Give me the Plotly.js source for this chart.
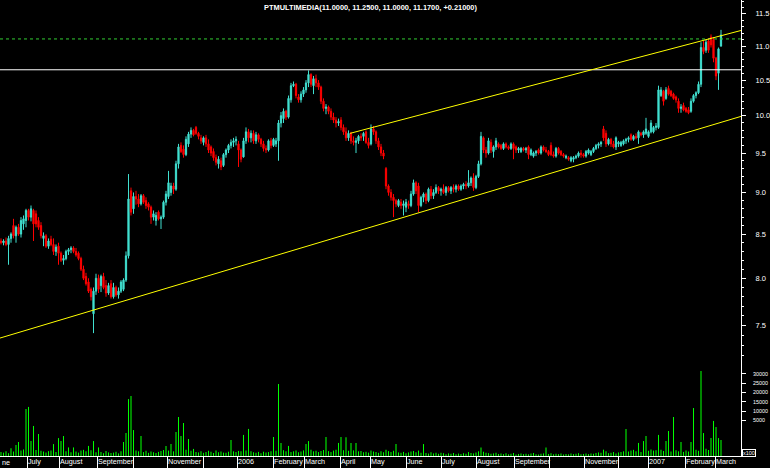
<!DOCTYPE html>
<html>
<head>
<meta charset="utf-8">
<script src="https://cdn.plot.ly/plotly-3.0.1.min.js"></script>
<style>html,body{margin:0;padding:0;background:#000;}#chart{width:770px;height:468px;}</style>
</head>
<body>
<div id="chart"></div>
<script>
// ---- DATA (one candle per ~2.5px column) ----
const opens = [
8.42,8.40,8.42,8.38,8.45,8.60,8.48,8.58,8.50,8.62,
8.66,8.78,8.70,8.78,8.74,8.66,8.60,8.45,8.48,8.36,
8.44,8.38,8.30,8.36,8.28,8.20,8.22,8.30,8.32,8.34,
8.30,8.28,8.22,8.10,8.02,7.96,7.88,7.62,7.86,8.00,
7.92,8.02,7.92,7.84,7.94,7.80,7.90,7.82,7.86,7.88,
7.98,8.25,9.02,8.80,8.95,8.92,8.86,8.96,8.90,8.86,
8.82,8.70,8.66,8.76,8.68,8.70,8.88,8.95,9.00,9.08,
9.04,9.36,9.60,9.55,9.48,9.62,9.75,9.80,9.84,9.76,
9.70,9.64,9.70,9.62,9.58,9.52,9.44,9.36,9.40,9.34,
9.48,9.54,9.60,9.64,9.66,9.62,9.54,9.45,9.66,9.78,
9.70,9.76,9.66,9.74,9.68,9.62,9.56,9.54,9.66,9.60,
9.62,9.66,9.90,9.96,10.06,9.98,10.22,10.42,10.44,10.26,
10.22,10.30,10.36,10.46,10.58,10.42,10.52,10.46,10.40,10.20,
10.10,10.12,10.06,9.98,9.94,9.90,9.94,9.84,9.78,9.70,
9.76,9.66,9.64,9.66,9.72,9.72,9.78,9.64,9.62,9.82,
9.78,9.66,9.58,9.50,9.30,9.08,9.00,8.94,8.90,8.84,
8.88,8.84,8.82,8.86,8.84,8.98,9.12,9.08,8.84,8.94,
8.98,8.90,9.04,8.96,9.00,9.06,9.02,9.04,9.00,9.06,
9.02,9.06,9.04,9.08,9.04,9.08,9.10,9.08,9.12,9.18,
9.06,9.20,9.36,9.70,9.54,9.50,9.64,9.52,9.58,9.62,
9.60,9.56,9.62,9.58,9.56,9.62,9.58,9.54,9.52,9.56,
9.54,9.58,9.48,9.46,9.50,9.54,9.50,9.58,9.54,9.52,
9.60,9.48,9.46,9.56,9.52,9.48,9.44,9.44,9.40,9.42,
9.44,9.46,9.50,9.48,9.46,9.50,9.48,9.52,9.56,9.60,
9.62,9.82,9.76,9.62,9.68,9.62,9.58,9.62,9.60,9.62,
9.66,9.68,9.74,9.68,9.72,9.70,9.76,9.74,9.76,9.72,
9.78,9.78,9.84,9.84,10.28,10.34,10.24,10.38,10.34,10.30,
10.26,10.20,10.10,10.14,10.10,10.08,10.06,10.20,10.28,10.32,
10.44,10.98,10.94,11.08,11.14,11.10,10.82,10.60,11.00];
const highs = [
8.45,8.44,8.46,8.48,8.52,8.68,8.60,8.62,8.70,8.72,
8.80,8.80,8.84,8.80,8.78,8.70,8.64,8.52,8.50,8.45,
8.48,8.45,8.38,8.40,8.30,8.26,8.32,8.34,8.36,8.36,
8.34,8.30,8.24,8.14,8.06,8.00,7.90,7.90,8.05,8.04,
8.04,8.06,7.98,7.95,7.98,7.95,7.92,7.90,7.98,8.00,
8.30,9.23,9.06,9.00,9.02,8.98,8.98,8.98,8.94,8.88,
8.84,8.78,8.76,8.78,8.72,8.90,9.02,9.27,9.12,9.12,
9.40,9.62,9.64,9.60,9.72,9.78,9.84,9.82,9.86,9.78,
9.74,9.72,9.74,9.68,9.60,9.56,9.48,9.46,9.44,9.50,
9.56,9.62,9.68,9.70,9.72,9.66,9.56,9.70,9.84,9.82,
9.80,9.80,9.78,9.76,9.70,9.66,9.60,9.68,9.70,9.70,
9.70,9.94,10.05,10.10,10.08,10.28,10.46,10.48,10.46,10.30,
10.34,10.40,10.50,10.64,10.60,10.56,10.58,10.50,10.42,10.24,
10.16,10.14,10.10,10.04,9.98,9.96,9.98,9.88,9.84,9.80,
9.78,9.72,9.70,9.74,9.76,9.78,9.80,9.70,9.88,9.86,
9.80,9.70,9.62,9.54,9.32,9.10,9.04,8.98,8.92,8.92,
8.92,8.90,8.92,8.90,9.02,9.16,9.14,9.12,8.96,9.00,
9.00,9.06,9.08,9.04,9.10,9.08,9.06,9.10,9.08,9.08,
9.08,9.10,9.10,9.10,9.10,9.12,9.14,9.28,9.20,9.24,
9.22,9.40,9.78,9.72,9.58,9.70,9.68,9.60,9.70,9.64,
9.62,9.64,9.64,9.60,9.64,9.64,9.60,9.58,9.58,9.58,
9.58,9.60,9.56,9.52,9.54,9.56,9.60,9.60,9.58,9.54,
9.64,9.52,9.58,9.58,9.54,9.50,9.48,9.46,9.46,9.46,
9.48,9.52,9.54,9.50,9.54,9.56,9.54,9.58,9.62,9.64,
9.66,9.86,9.80,9.70,9.70,9.66,9.72,9.66,9.66,9.68,
9.70,9.72,9.76,9.74,9.76,9.80,9.78,9.80,9.97,9.80,
9.94,9.86,9.90,10.42,10.40,10.36,10.40,10.42,10.36,10.32,
10.28,10.24,10.16,10.18,10.12,10.12,10.24,10.30,10.34,10.48,
11.06,11.08,11.10,11.12,11.18,11.14,10.84,10.98,11.25];
const lows = [
8.38,8.37,8.36,8.15,8.40,8.45,8.40,8.48,8.46,8.55,
8.58,8.66,8.65,8.42,8.58,8.55,8.45,8.36,8.34,8.33,
8.36,8.26,8.25,8.15,8.18,8.15,8.20,8.26,8.28,8.28,
8.24,8.20,8.08,7.98,7.92,7.84,7.76,7.42,7.82,7.84,
7.85,7.88,7.80,7.82,7.78,7.78,7.80,7.78,7.84,7.86,
7.96,8.22,8.72,8.74,8.85,8.82,8.84,8.86,8.80,8.78,
8.62,8.66,8.60,8.66,8.56,8.68,8.84,8.92,8.96,8.98,
9.02,9.30,9.50,9.44,9.46,9.58,9.70,9.72,9.74,9.68,
9.62,9.60,9.58,9.50,9.46,9.40,9.34,9.30,9.28,9.32,
9.44,9.50,9.56,9.58,9.60,9.32,9.38,9.44,9.62,9.64,
9.64,9.62,9.62,9.64,9.58,9.52,9.50,9.52,9.56,9.58,
9.58,9.40,9.84,9.90,9.94,9.96,10.18,10.40,10.24,10.18,
10.18,10.26,10.32,10.40,10.40,10.30,10.40,10.36,10.16,10.06,
10.02,10.02,9.94,9.90,9.84,9.86,9.80,9.74,9.66,9.66,
9.62,9.60,9.50,9.62,9.66,9.66,9.62,9.56,9.60,9.74,
9.62,9.54,9.46,9.42,9.04,8.96,8.90,8.70,8.82,8.82,
8.80,8.72,8.76,8.80,8.82,8.96,8.98,8.76,8.82,8.88,
8.86,8.88,8.92,8.92,8.98,8.98,8.96,8.98,8.96,9.00,
8.98,9.00,9.00,9.02,9.02,9.04,9.04,9.06,9.08,9.02,
9.04,9.18,9.34,9.50,9.44,9.48,9.50,9.44,9.54,9.56,
9.54,9.54,9.56,9.54,9.54,9.42,9.50,9.50,9.50,9.52,
9.50,9.42,9.46,9.44,9.46,9.48,9.48,9.52,9.50,9.46,
9.46,9.44,9.44,9.48,9.46,9.44,9.42,9.40,9.38,9.38,
9.42,9.44,9.44,9.44,9.44,9.48,9.46,9.50,9.54,9.56,
9.58,9.66,9.58,9.60,9.58,9.56,9.54,9.58,9.58,9.60,
9.62,9.64,9.66,9.66,9.68,9.62,9.72,9.70,9.74,9.70,
9.76,9.76,9.80,9.82,10.26,10.14,10.22,10.28,10.26,10.22,
10.18,10.04,10.04,10.06,10.04,10.02,10.04,10.18,10.24,10.30,
10.40,10.88,10.90,10.90,10.98,10.76,10.50,10.36,11.00];
const closes = [
8.40,8.42,8.38,8.45,8.50,8.48,8.58,8.50,8.66,8.68,
8.78,8.70,8.80,8.62,8.62,8.58,8.48,8.48,8.36,8.42,
8.38,8.30,8.35,8.28,8.20,8.22,8.30,8.32,8.34,8.30,
8.26,8.22,8.10,8.00,7.94,7.86,7.80,7.86,8.00,7.88,
8.02,7.90,7.84,7.92,7.80,7.90,7.82,7.86,7.96,7.98,
8.25,8.92,8.76,8.95,8.92,8.86,8.96,8.88,8.84,8.82,
8.70,8.74,8.72,8.68,8.70,8.88,8.98,9.12,9.08,9.04,
9.36,9.58,9.52,9.48,9.68,9.75,9.80,9.74,9.76,9.72,
9.66,9.70,9.62,9.54,9.50,9.44,9.38,9.42,9.32,9.48,
9.54,9.60,9.64,9.66,9.68,9.54,9.42,9.66,9.78,9.70,
9.76,9.66,9.74,9.68,9.62,9.56,9.54,9.66,9.60,9.68,
9.66,9.90,10.00,10.06,9.98,10.24,10.42,10.44,10.28,10.22,
10.30,10.36,10.46,10.58,10.44,10.52,10.46,10.40,10.20,10.10,
10.12,10.06,9.98,9.94,9.90,9.92,9.84,9.78,9.70,9.76,
9.66,9.64,9.66,9.72,9.70,9.76,9.64,9.60,9.82,9.78,
9.66,9.58,9.50,9.46,9.08,9.00,8.94,8.90,8.86,8.90,
8.84,8.86,8.88,8.84,8.98,9.12,9.02,8.84,8.94,8.98,
8.90,9.04,8.96,9.00,9.06,9.02,9.04,9.00,9.06,9.02,
9.06,9.04,9.08,9.04,9.08,9.10,9.08,9.12,9.18,9.06,
9.20,9.36,9.72,9.54,9.50,9.66,9.54,9.58,9.66,9.58,
9.56,9.62,9.58,9.56,9.62,9.56,9.54,9.56,9.56,9.54,
9.56,9.48,9.54,9.50,9.52,9.50,9.58,9.54,9.52,9.48,
9.48,9.46,9.56,9.50,9.48,9.46,9.46,9.42,9.44,9.44,
9.46,9.50,9.48,9.46,9.52,9.54,9.52,9.56,9.60,9.62,
9.64,9.70,9.62,9.68,9.62,9.58,9.70,9.64,9.64,9.66,
9.68,9.70,9.68,9.72,9.70,9.78,9.74,9.78,9.82,9.78,
9.90,9.84,9.86,10.36,10.36,10.20,10.36,10.30,10.28,10.24,
10.22,10.10,10.12,10.08,10.06,10.04,10.20,10.28,10.32,10.44,
10.98,10.92,11.06,10.94,11.02,10.82,10.56,10.96,11.17];
const volumes = [
2200,1800,2600,1500,4100,2400,5900,7500,3000,3500,
25200,26300,8000,16100,3200,11800,2800,2400,1900,2600,
3000,6400,2200,9600,8000,10700,2600,4600,2000,4600,
2400,1800,2900,3300,2500,5400,3100,8000,2000,4600,
2200,1500,2700,1900,1600,1800,2300,1400,2600,7500,
12300,30500,32100,13900,3000,2500,10700,2100,2800,1700,
2400,2000,1600,2200,2700,3200,5400,2900,6400,2500,
12900,20900,10700,17700,3400,9100,2800,3800,2200,1900,
2500,1700,2100,2800,2300,1600,2900,2000,2400,1800,
1800,2300,8600,2500,2100,2700,2500,11300,3000,14500,
2600,2000,1700,2200,1500,2300,1900,2100,2500,10200,
2800,38600,7000,3100,2600,5400,2200,2500,2900,2000,
2400,3000,6400,8000,3300,2500,2800,2100,2700,3200,
10200,2600,2200,2900,3400,7000,10200,3100,10000,2800,
7000,3000,7000,2500,2700,2000,2300,1800,2900,2400,
2100,1700,2500,2000,3300,2600,2200,2800,6400,1900,
1700,2200,1500,1900,2400,2700,2000,2900,1800,6400,
1600,1300,2000,1400,1800,1200,1700,1500,1000,1400,
1200,1600,900,1300,1100,1500,1200,2100,1600,1400,
1900,2500,4600,2300,1700,1500,1200,1400,1800,1100,
1300,1000,1500,900,1200,1600,800,1100,1400,1000,
1200,900,1300,1600,1000,800,1200,1400,4600,1100,
1500,900,1200,1000,1400,800,1100,900,1300,1000,
1200,1500,900,1100,1300,1000,1400,1200,1600,1900,
1700,3400,2600,1500,1800,2100,1400,1900,2200,2500,
14500,2400,2900,3300,2600,7000,2200,8000,10700,2800,
3500,2900,3100,11300,3300,2700,8000,13400,2400,20900,
3100,2500,7500,2200,2900,2400,7500,25700,3400,2800,
45600,12300,3900,3200,9600,18800,15500,9600,8600];

// month boundaries (in candle-index units) and their labels
const monthPos = [10.4,23.2,38.4,52.8,66.4,80.8,94.4,108.8,121.2,135.6,147.6,162,176,190,205.2,219.2,233.2,246.8,258.8,273.6,285.6];
const monthLabels = ['July','August','September','','November','','2006','February','March','April','May','June','July','August','September','','November','','2007','February','March'];

const priceTicks = [7.5,8.0,8.5,9.0,9.5,10.0,10.5,11.0,11.5];
const priceTickText = ['7.5','8.0','8.5','9.0','9.5','10.0','10.5','11.0','11.5'];
const priceMinor = [7.2,7.3,7.4,7.6,7.7,7.8,7.9,8.1,8.2,8.3,8.4,8.6,8.7,8.8,8.9,9.1,9.2,9.3,9.4,9.6,9.7,9.8,9.9,10.1,10.2,10.3,10.4,10.6,10.7,10.8,10.9,11.1,11.2,11.3,11.4,11.6,11.7];

const volTickText = ['5000','10000','15000','20000','25000','30000'];
const volTickPos = [19131,24115,29099,34136,39121,44105];

// horizontal levels and trend lines
const resistanceLevel = 10.65;
const lastLevel = 11.11;
const lowerTrendX = [-0.4, 296], lowerTrendY = [7.37, 9.99];
const upperTrendX = [139.6, 296], upperTrendY = [9.76, 11.24];

const titleText = 'PTMULTIMEDIA(11.0000, 11.2500, 11.0000, 11.1700, +0.21000)';

// ---- CHART ----
const idx = closes.map((_, i) => i);
const xr = [-0.4, 296];
const CYAN = '#40E0D0', RED = '#FF0000';
const FONT = 'Liberation Sans, Arial, sans-serif';

const traces = [
  {
    type: 'candlestick', x: idx, open: opens, high: highs, low: lows, close: closes,
    xaxis: 'x', yaxis: 'y',
    increasing: {line: {color: CYAN, width: 1}, fillcolor: CYAN},
    decreasing: {line: {color: RED, width: 1}, fillcolor: RED},
    whiskerwidth: 0, hoverinfo: 'skip'
  },
  {
    type: 'bar', x: idx, y: volumes, xaxis: 'x', yaxis: 'y2',
    marker: {color: '#00FF00', line: {width: 0}}, width: 0.42, hoverinfo: 'skip'
  },
  {type: 'scatter', mode: 'lines', x: xr, y: [resistanceLevel, resistanceLevel], xaxis: 'x', yaxis: 'y',
   line: {color: '#FFFFFF', width: 1}, hoverinfo: 'skip'},
  {type: 'scatter', mode: 'lines', x: xr, y: [lastLevel, lastLevel], xaxis: 'x', yaxis: 'y',
   line: {color: '#33CC33', width: 1, dash: '3px,3px'}, hoverinfo: 'skip'},
  {type: 'scatter', mode: 'lines', x: lowerTrendX, y: lowerTrendY, xaxis: 'x', yaxis: 'y',
   line: {color: '#FFFF00', width: 1}, hoverinfo: 'skip'},
  {type: 'scatter', mode: 'lines', x: upperTrendX, y: upperTrendY, xaxis: 'x', yaxis: 'y',
   line: {color: '#FFFF00', width: 1}, hoverinfo: 'skip'}
];

const tickFont = {family: FONT, size: 7.5, color: '#FFFFFF'};
const VOL_TOP_FRAC = 98 / 456;

const layout = {
  width: 770, height: 468,
  paper_bgcolor: '#000000', plot_bgcolor: '#000000',
  margin: {l: 0, r: 29, t: 0, b: 12, pad: 0},
  showlegend: false,
  hovermode: false,
  title: {
    text: titleText, x: 370.5 / 770, xanchor: 'center', y: 1 - 7 / 468, yanchor: 'middle',
    font: {family: FONT, size: 7.4, color: '#FFFFFF', weight: 'bold'}
  },
  xaxis: {
    domain: [0, 1], range: xr, anchor: 'y2', showgrid: false, zeroline: false,
    showline: true, linecolor: '#FFFFFF', linewidth: 1,
    tickmode: 'array', tickvals: monthPos, ticktext: monthLabels,
    ticks: 'outside', ticklen: 12, tickcolor: '#FFFFFF', tickwidth: 1, tickangle: 0,
    ticklabelposition: 'outside right', ticklabelstandoff: -2,
    tickfont: {family: FONT, size: 7.2, color: '#FFFFFF'},
    rangeslider: {visible: false}, fixedrange: true
  },
  yaxis: {
    domain: [VOL_TOP_FRAC, 1], type: 'log',
    range: [Math.log10(7.171), Math.log10(11.72)],
    side: 'right', anchor: 'x', showgrid: false, zeroline: false,
    showline: true, linecolor: '#FFFFFF', linewidth: 1,
    tickmode: 'array', tickvals: priceTicks, ticktext: priceTickText,
    ticks: 'outside', ticklen: 4, tickcolor: '#FFFFFF', tickfont: tickFont, ticklabelstandoff: 8,
    minor: {tickmode: 'array', tickvals: priceMinor, ticks: 'outside', ticklen: 2, tickcolor: '#FFFFFF'},
    fixedrange: true
  },
  yaxis2: {
    domain: [0, VOL_TOP_FRAC], range: [0, 52518],
    side: 'right', anchor: 'x', showgrid: false, zeroline: false,
    showline: true, linecolor: '#FFFFFF', linewidth: 1,
    tickmode: 'array', tickvals: volTickPos, ticktext: volTickText,
    ticks: 'outside', ticklen: 4, tickcolor: '#FFFFFF',
    tickfont: {family: FONT, size: 5.4, color: '#FFFFFF'}, ticklabelstandoff: 6,
    fixedrange: true
  },
  annotations: [
    {text: 'ne', xref: 'paper', yref: 'paper', x: 0, y: 0, xanchor: 'left', yanchor: 'top', yshift: 0, xshift: 0,
     showarrow: false, font: {family: FONT, size: 7.2, color: '#FFFFFF'}},
    {text: 'x100', xref: 'paper', yref: 'paper', x: 1, y: 0, xanchor: 'left', yanchor: 'middle', xshift: 1, yshift: 3,
     showarrow: false, bordercolor: '#FFFFFF', borderwidth: 1, borderpad: 0,
     font: {family: FONT, size: 5.5, color: '#FFFFFF'}}
  ]
};

Plotly.newPlot('chart', traces, layout, {staticPlot: true, displayModeBar: false});
</script>
</body>
</html>
